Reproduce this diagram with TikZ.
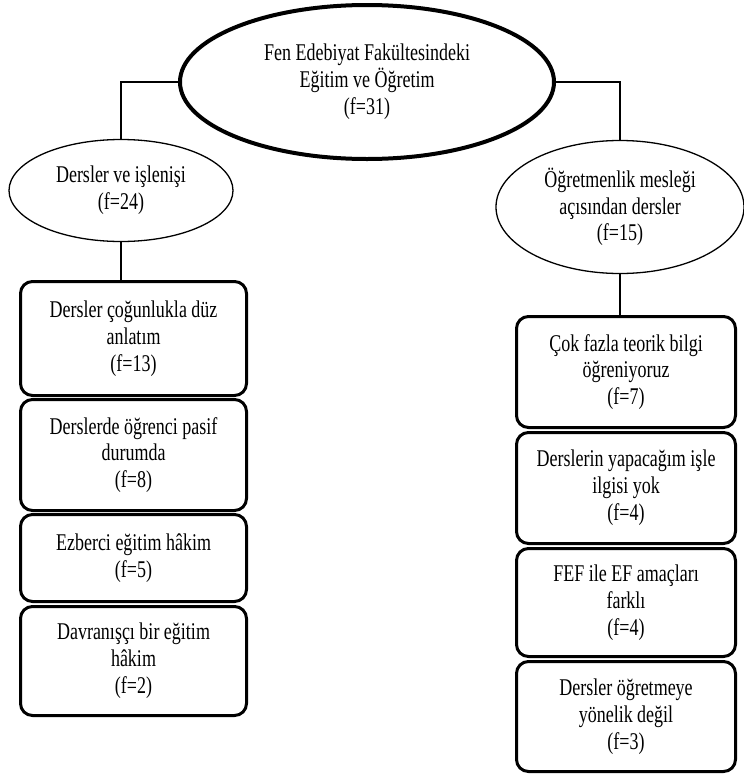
\documentclass[tikz,border=0pt]{standalone}
\usepackage{fontspec}
\setmainfont[FakeStretch=0.75]{Liberation Serif}
\usetikzlibrary{shapes.geometric}
\tikzset{
  txt/.style={font=\fontsize{24}{26.8}\selectfont, align=center, inner sep=0pt},
  topell/.style={txt, ellipse, draw, line width=4pt},
  subell/.style={txt, ellipse, draw, line width=1.3pt},
  leaf/.style={txt, draw, rounded corners=12pt, line width=3pt},
  conn/.style={line width=2pt}
}
\begin{document}
\begin{tikzpicture}[x=1pt,y=-1pt]
\useasboundingbox (0,0) rectangle (744,777);
\node[topell, minimum width=374pt, minimum height=154pt] (top) at (367,82)
  {Fen Edebiyat Fakültesindeki\\Eğitim ve Öğretim\\(f=31)};
\node[subell, minimum width=224pt, minimum height=102pt] (le) at (121,190.5)
  {Dersler ve işlenişi\\(f=24)};
\node[subell, minimum width=248pt, minimum height=133pt] (re) at (620,207)
  {Öğretmenlik mesleği\\açısından dersler\\(f=15)};
% left boxes
\node[leaf, minimum width=226pt, minimum height=114pt] (b1) at (133.5,338.5)
  {Dersler çoğunlukla düz\\anlatım\\(f=13)};
\node[leaf, minimum width=226pt, minimum height=111pt] (b2) at (133.5,455)
  {Derslerde öğrenci pasif\\durumda\\(f=8)};
\node[leaf, minimum width=226pt, minimum height=87pt] (b3) at (133.5,558)
  {Ezberci eğitim hâkim\\(f=5)};
\node[leaf, minimum width=226pt, minimum height=109pt] (b4) at (133.5,661)
  {Davranışçı bir eğitim\\hâkim\\(f=2)};
% right boxes
\node[leaf, minimum width=219pt, minimum height=111pt] (r1) at (626,372)
  {Çok fazla teorik bilgi\\öğreniyoruz\\(f=7)};
\node[leaf, minimum width=219pt, minimum height=111pt] (r2) at (626,488)
  {Derslerin yapacağım işle\\ilgisi yok\\(f=4)};
\node[leaf, minimum width=219pt, minimum height=108pt] (r3) at (626,602.5)
  {FEF ile EF amaçları\\farklı\\(f=4)};
\node[leaf, minimum width=219pt, minimum height=110pt] (r4) at (626,716.5)
  {Dersler öğretmeye\\yönelik değil\\(f=3)};
% connectors
\draw[conn] (top.west) -| (le.north);
\draw[conn] (top.east) -| (re.north);
\draw[conn] (le.south) -- (le.south |- b1.north);
\draw[conn] (re.south) -- (re.south |- r1.north);
\end{tikzpicture}
\end{document}
